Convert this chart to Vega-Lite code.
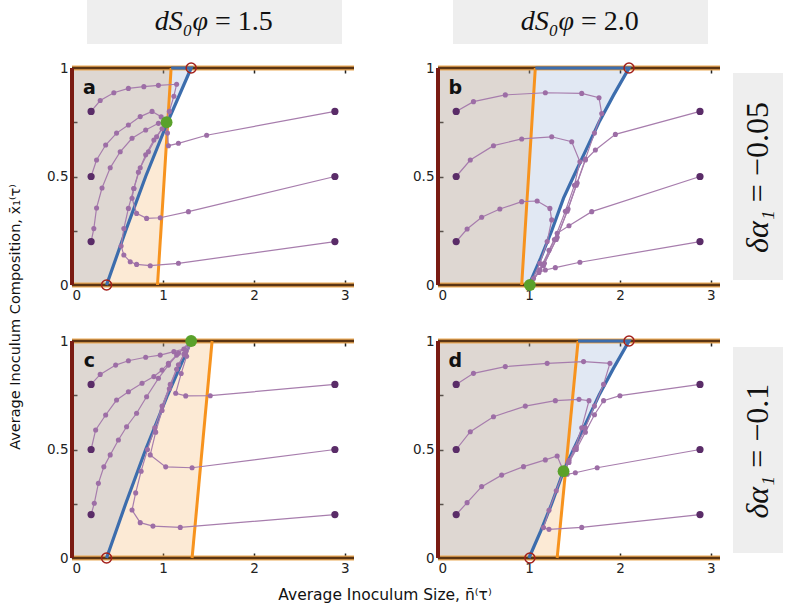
{
"$schema": "https://vega.github.io/schema/vega-lite/v6.json",
"background": "white",
"padding": {"left": 7, "top": 0, "right": 0, "bottom": 0},
"spacing": 16,
"config": {"view": {"stroke": null}, "axis": {"labelFont": "DejaVu Sans", "labelFontSize": 13.5, "labelColor": "#222", "tickColor": "#222", "tickWidth": 1.5, "tickSize": -5, "domain": false, "grid": false}},
"vconcat": [
{"spacing": 0, "hconcat": [
 {"width": 15, "height": 44, "data": {"values": []}, "mark": "point"},
 {"width": 255, "height": 44, "view": {"fill": "#eeeeee", "stroke": null}, "data": {"values": [{"a": "dS₀φ", "b": "= 1.5"}]},
  "layer": [
   {"mark": {"type": "text", "font": "Liberation Serif", "fontSize": 28, "fontStyle": "italic", "align": "right", "dx": -6.5, "color": "#111"}, "encoding": {"text": {"field": "a"}}},
   {"mark": {"type": "text", "font": "Liberation Serif", "fontSize": 28, "align": "left", "dx": 0.5, "color": "#111"}, "encoding": {"text": {"field": "b"}}}
  ]},
 {"width": 111, "height": 44, "data": {"values": []}, "mark": "point"},
 {"width": 255, "height": 44, "view": {"fill": "#eeeeee", "stroke": null}, "data": {"values": [{"a": "dS₀φ", "b": "= 2.0"}]},
  "layer": [
   {"mark": {"type": "text", "font": "Liberation Serif", "fontSize": 28, "fontStyle": "italic", "align": "right", "dx": -6.5, "color": "#111"}, "encoding": {"text": {"field": "a"}}},
   {"mark": {"type": "text", "font": "Liberation Serif", "fontSize": 28, "align": "left", "dx": 0.5, "color": "#111"}, "encoding": {"text": {"field": "b"}}}
  ]}
]},
{"spacing": 10, "hconcat": [
 {
  "data": {"values": [
{"r":1,"c":1,"k":"ro","x":0,"y":0,"h":1},{"r":1,"c":1,"k":"ro","x":0.94,"y":0,"h":1},{"r":1,"c":1,"k":"ro","x":1.09,"y":1,"h":1},
{"r":1,"c":1,"k":"rb","x":0,"y":0,"h":1},{"r":1,"c":1,"k":"rb","x":0.38,"y":0,"h":1},{"r":1,"c":1,"k":"rb","x":0.59,"y":0.25,"h":1},{"r":1,"c":1,"k":"rb","x":0.81,"y":0.5,"h":1},{"r":1,"c":1,"k":"rb","x":1.05,"y":0.75,"h":1},{"r":1,"c":1,"k":"rb","x":1.31,"y":1,"h":1},
{"r":1,"c":2,"k":"ro","x":0,"y":0,"h":1},{"r":1,"c":2,"k":"ro","x":0.92,"y":0,"h":1},{"r":1,"c":2,"k":"ro","x":1.07,"y":1,"h":1},
{"r":1,"c":2,"k":"rb","x":0,"y":0,"h":1},{"r":1,"c":2,"k":"rb","x":1.0,"y":0,"h":1},{"r":1,"c":2,"k":"rb","x":1.13,"y":0.125,"h":1},{"r":1,"c":2,"k":"rb","x":1.25,"y":0.25,"h":1},{"r":1,"c":2,"k":"rb","x":1.38,"y":0.4,"h":1},{"r":1,"c":2,"k":"rb","x":1.49,"y":0.5,"h":1},{"r":1,"c":2,"k":"rb","x":1.63,"y":0.625,"h":1},{"r":1,"c":2,"k":"rb","x":1.77,"y":0.75,"h":1},{"r":1,"c":2,"k":"rb","x":1.93,"y":0.875,"h":1},{"r":1,"c":2,"k":"rb","x":2.1,"y":1,"h":1},
{"r":2,"c":1,"k":"ro","x":0,"y":0,"h":1},{"r":2,"c":1,"k":"ro","x":1.32,"y":0,"h":1},{"r":2,"c":1,"k":"ro","x":1.54,"y":1,"h":1},
{"r":2,"c":1,"k":"rb","x":0,"y":0,"h":1},{"r":2,"c":1,"k":"rb","x":0.38,"y":0,"h":1},{"r":2,"c":1,"k":"rb","x":0.59,"y":0.25,"h":1},{"r":2,"c":1,"k":"rb","x":0.81,"y":0.5,"h":1},{"r":2,"c":1,"k":"rb","x":1.05,"y":0.75,"h":1},{"r":2,"c":1,"k":"rb","x":1.31,"y":1,"h":1},
{"r":2,"c":2,"k":"ro","x":0,"y":0,"h":1},{"r":2,"c":2,"k":"ro","x":1.31,"y":0,"h":1},{"r":2,"c":2,"k":"ro","x":1.54,"y":1,"h":1},
{"r":2,"c":2,"k":"rb","x":0,"y":0,"h":1},{"r":2,"c":2,"k":"rb","x":1.0,"y":0,"h":1},{"r":2,"c":2,"k":"rb","x":1.13,"y":0.125,"h":1},{"r":2,"c":2,"k":"rb","x":1.25,"y":0.25,"h":1},{"r":2,"c":2,"k":"rb","x":1.38,"y":0.4,"h":1},{"r":2,"c":2,"k":"rb","x":1.49,"y":0.5,"h":1},{"r":2,"c":2,"k":"rb","x":1.63,"y":0.625,"h":1},{"r":2,"c":2,"k":"rb","x":1.77,"y":0.75,"h":1},{"r":2,"c":2,"k":"rb","x":1.93,"y":0.875,"h":1},{"r":2,"c":2,"k":"rb","x":2.1,"y":1,"h":1},

{"r":1,"c":1,"k":"or","o":0,"x":0.94,"y":0},{"r":1,"c":1,"k":"or","o":1,"x":1.09,"y":1},
{"r":1,"c":1,"k":"br","o":0,"x":0.38,"y":0},{"r":1,"c":1,"k":"br","o":1,"x":0.59,"y":0.25},{"r":1,"c":1,"k":"br","o":2,"x":0.81,"y":0.5},{"r":1,"c":1,"k":"br","o":3,"x":1.05,"y":0.75},{"r":1,"c":1,"k":"br","o":4,"x":1.31,"y":1},{"r":1,"c":1,"k":"br","o":5,"x":1.09,"y":1},
{"r":1,"c":1,"k":"g","x":1.04,"y":0.75},
{"r":1,"c":1,"k":"rc","x":1.31,"y":1},{"r":1,"c":1,"k":"rc","x":0.38,"y":0},
{"r":1,"c":1,"k":"e","y":0},{"r":1,"c":1,"k":"e","y":1},
{"r":1,"c":1,"k":"lab","t":"a"},
{"r":1,"c":2,"k":"or","o":0,"x":0.92,"y":0},{"r":1,"c":2,"k":"or","o":1,"x":1.07,"y":1},
{"r":1,"c":2,"k":"br","o":0,"x":1.0,"y":0},{"r":1,"c":2,"k":"br","o":1,"x":1.13,"y":0.125},{"r":1,"c":2,"k":"br","o":2,"x":1.25,"y":0.25},{"r":1,"c":2,"k":"br","o":3,"x":1.38,"y":0.4},{"r":1,"c":2,"k":"br","o":4,"x":1.49,"y":0.5},{"r":1,"c":2,"k":"br","o":5,"x":1.63,"y":0.625},{"r":1,"c":2,"k":"br","o":6,"x":1.77,"y":0.75},{"r":1,"c":2,"k":"br","o":7,"x":1.93,"y":0.875},{"r":1,"c":2,"k":"br","o":8,"x":2.1,"y":1},{"r":1,"c":2,"k":"br","o":9,"x":1.07,"y":1},
{"r":1,"c":2,"k":"g","x":1.01,"y":0},
{"r":1,"c":2,"k":"rc","x":2.1,"y":1},
{"r":1,"c":2,"k":"e","y":0},{"r":1,"c":2,"k":"e","y":1},
{"r":1,"c":2,"k":"lab","t":"b"},
{"r":2,"c":1,"k":"or","o":0,"x":1.32,"y":0},{"r":2,"c":1,"k":"or","o":1,"x":1.54,"y":1},
{"r":2,"c":1,"k":"br","o":0,"x":0.38,"y":0},{"r":2,"c":1,"k":"br","o":1,"x":0.59,"y":0.25},{"r":2,"c":1,"k":"br","o":2,"x":0.81,"y":0.5},{"r":2,"c":1,"k":"br","o":3,"x":1.05,"y":0.75},{"r":2,"c":1,"k":"br","o":4,"x":1.31,"y":1},
{"r":2,"c":1,"k":"g","x":1.31,"y":1},
{"r":2,"c":1,"k":"rc","x":0.38,"y":0},
{"r":2,"c":1,"k":"e","y":0},{"r":2,"c":1,"k":"e","y":1},
{"r":2,"c":1,"k":"lab","t":"c"},
{"r":2,"c":2,"k":"or","o":0,"x":1.31,"y":0},{"r":2,"c":2,"k":"or","o":1,"x":1.54,"y":1},
{"r":2,"c":2,"k":"br","o":0,"x":1.0,"y":0},{"r":2,"c":2,"k":"br","o":1,"x":1.13,"y":0.125},{"r":2,"c":2,"k":"br","o":2,"x":1.25,"y":0.25},{"r":2,"c":2,"k":"br","o":3,"x":1.38,"y":0.4},{"r":2,"c":2,"k":"br","o":4,"x":1.49,"y":0.5},{"r":2,"c":2,"k":"br","o":5,"x":1.63,"y":0.625},{"r":2,"c":2,"k":"br","o":6,"x":1.77,"y":0.75},{"r":2,"c":2,"k":"br","o":7,"x":1.93,"y":0.875},{"r":2,"c":2,"k":"br","o":8,"x":2.1,"y":1},{"r":2,"c":2,"k":"br","o":9,"x":1.54,"y":1},
{"r":2,"c":2,"k":"g","x":1.38,"y":0.4},
{"r":2,"c":2,"k":"rc","x":1.01,"y":0},{"r":2,"c":2,"k":"rc","x":2.1,"y":1},
{"r":2,"c":2,"k":"e","y":0},{"r":2,"c":2,"k":"e","y":1},
{"r":2,"c":2,"k":"lab","t":"d"},

{"r":1,"c":1,"k":"t","i":"a1","o":0,"x":0.21,"y":0.8},{"r":1,"c":1,"k":"t","i":"a1","o":1,"x":0.31,"y":0.85},{"r":1,"c":1,"k":"t","i":"a1","o":2,"x":0.46,"y":0.886},{"r":1,"c":1,"k":"t","i":"a1","o":3,"x":0.62,"y":0.906},{"r":1,"c":1,"k":"t","i":"a1","o":4,"x":0.79,"y":0.914},{"r":1,"c":1,"k":"t","i":"a1","o":5,"x":0.95,"y":0.92},{"r":1,"c":1,"k":"t","i":"a1","o":6,"x":1.15,"y":0.925},{"r":1,"c":1,"k":"t","i":"a1","o":7,"x":1.12,"y":0.87},{"r":1,"c":1,"k":"t","i":"a1","o":8,"x":1.07,"y":0.8},{"r":1,"c":1,"k":"t","i":"a1","o":9,"x":1.04,"y":0.75},
{"r":1,"c":1,"k":"t","i":"a2","o":0,"x":0.21,"y":0.5},{"r":1,"c":1,"k":"t","i":"a2","o":1,"x":0.27,"y":0.576},{"r":1,"c":1,"k":"t","i":"a2","o":2,"x":0.37,"y":0.645},{"r":1,"c":1,"k":"t","i":"a2","o":3,"x":0.49,"y":0.7},{"r":1,"c":1,"k":"t","i":"a2","o":4,"x":0.62,"y":0.737},{"r":1,"c":1,"k":"t","i":"a2","o":5,"x":0.75,"y":0.776},{"r":1,"c":1,"k":"t","i":"a2","o":6,"x":0.88,"y":0.8},{"r":1,"c":1,"k":"t","i":"a2","o":7,"x":0.98,"y":0.775},{"r":1,"c":1,"k":"t","i":"a2","o":8,"x":1.04,"y":0.75},
{"r":1,"c":1,"k":"t","i":"a3","o":0,"x":0.21,"y":0.2},{"r":1,"c":1,"k":"t","i":"a3","o":1,"x":0.24,"y":0.26},{"r":1,"c":1,"k":"t","i":"a3","o":2,"x":0.27,"y":0.355},{"r":1,"c":1,"k":"t","i":"a3","o":3,"x":0.33,"y":0.447},{"r":1,"c":1,"k":"t","i":"a3","o":4,"x":0.42,"y":0.54},{"r":1,"c":1,"k":"t","i":"a3","o":5,"x":0.53,"y":0.614},{"r":1,"c":1,"k":"t","i":"a3","o":6,"x":0.66,"y":0.676},{"r":1,"c":1,"k":"t","i":"a3","o":7,"x":0.81,"y":0.714},{"r":1,"c":1,"k":"t","i":"a3","o":8,"x":0.95,"y":0.745},{"r":1,"c":1,"k":"t","i":"a3","o":9,"x":1.04,"y":0.75},
{"r":1,"c":1,"k":"t","i":"a4","o":0,"x":2.89,"y":0.8},{"r":1,"c":1,"k":"t","i":"a4","o":1,"x":1.48,"y":0.69},{"r":1,"c":1,"k":"t","i":"a4","o":2,"x":1.17,"y":0.653},{"r":1,"c":1,"k":"t","i":"a4","o":3,"x":1.06,"y":0.642},{"r":1,"c":1,"k":"t","i":"a4","o":4,"x":1.05,"y":0.7},{"r":1,"c":1,"k":"t","i":"a4","o":5,"x":1.04,"y":0.75},
{"r":1,"c":1,"k":"t","i":"a5","o":0,"x":2.89,"y":0.5},{"r":1,"c":1,"k":"t","i":"a5","o":1,"x":1.28,"y":0.338},{"r":1,"c":1,"k":"t","i":"a5","o":2,"x":0.97,"y":0.31},{"r":1,"c":1,"k":"t","i":"a5","o":3,"x":0.82,"y":0.307},{"r":1,"c":1,"k":"t","i":"a5","o":4,"x":0.71,"y":0.33},{"r":1,"c":1,"k":"t","i":"a5","o":5,"x":0.66,"y":0.4},{"r":1,"c":1,"k":"t","i":"a5","o":6,"x":0.68,"y":0.445},{"r":1,"c":1,"k":"t","i":"a5","o":7,"x":0.73,"y":0.52},{"r":1,"c":1,"k":"t","i":"a5","o":8,"x":0.81,"y":0.6},{"r":1,"c":1,"k":"t","i":"a5","o":9,"x":0.9,"y":0.668},{"r":1,"c":1,"k":"t","i":"a5","o":10,"x":0.99,"y":0.72},{"r":1,"c":1,"k":"t","i":"a5","o":11,"x":1.04,"y":0.75},
{"r":1,"c":1,"k":"t","i":"a6","o":0,"x":2.89,"y":0.2},{"r":1,"c":1,"k":"t","i":"a6","o":1,"x":1.17,"y":0.1},{"r":1,"c":1,"k":"t","i":"a6","o":2,"x":0.86,"y":0.089},{"r":1,"c":1,"k":"t","i":"a6","o":3,"x":0.71,"y":0.095},{"r":1,"c":1,"k":"t","i":"a6","o":4,"x":0.64,"y":0.107},{"r":1,"c":1,"k":"t","i":"a6","o":5,"x":0.57,"y":0.138},{"r":1,"c":1,"k":"t","i":"a6","o":6,"x":0.54,"y":0.18},{"r":1,"c":1,"k":"t","i":"a6","o":7,"x":0.57,"y":0.26},{"r":1,"c":1,"k":"t","i":"a6","o":8,"x":0.62,"y":0.353},{"r":1,"c":1,"k":"t","i":"a6","o":9,"x":0.68,"y":0.445},{"r":1,"c":1,"k":"t","i":"a6","o":10,"x":0.75,"y":0.54},{"r":1,"c":1,"k":"t","i":"a6","o":11,"x":0.84,"y":0.614},{"r":1,"c":1,"k":"t","i":"a6","o":12,"x":0.93,"y":0.683},{"r":1,"c":1,"k":"t","i":"a6","o":13,"x":1.04,"y":0.75},

{"r":1,"c":2,"k":"t","i":"b1","o":0,"x":0.2,"y":0.8},{"r":1,"c":2,"k":"t","i":"b1","o":1,"x":0.39,"y":0.845},{"r":1,"c":2,"k":"t","i":"b1","o":2,"x":0.74,"y":0.876},{"r":1,"c":2,"k":"t","i":"b1","o":3,"x":1.18,"y":0.886},{"r":1,"c":2,"k":"t","i":"b1","o":4,"x":1.58,"y":0.883},{"r":1,"c":2,"k":"t","i":"b1","o":5,"x":1.77,"y":0.863},{"r":1,"c":2,"k":"t","i":"b1","o":6,"x":1.8,"y":0.79},{"r":1,"c":2,"k":"t","i":"b1","o":7,"x":1.72,"y":0.7},{"r":1,"c":2,"k":"t","i":"b1","o":8,"x":1.62,"y":0.58},{"r":1,"c":2,"k":"t","i":"b1","o":9,"x":1.52,"y":0.46},{"r":1,"c":2,"k":"t","i":"b1","o":10,"x":1.42,"y":0.34},{"r":1,"c":2,"k":"t","i":"b1","o":11,"x":1.3,"y":0.21},{"r":1,"c":2,"k":"t","i":"b1","o":12,"x":1.16,"y":0.09},{"r":1,"c":2,"k":"t","i":"b1","o":13,"x":1.01,"y":0},
{"r":1,"c":2,"k":"t","i":"b2","o":0,"x":0.2,"y":0.5},{"r":1,"c":2,"k":"t","i":"b2","o":1,"x":0.355,"y":0.576},{"r":1,"c":2,"k":"t","i":"b2","o":2,"x":0.61,"y":0.642},{"r":1,"c":2,"k":"t","i":"b2","o":3,"x":0.92,"y":0.673},{"r":1,"c":2,"k":"t","i":"b2","o":4,"x":1.25,"y":0.683},{"r":1,"c":2,"k":"t","i":"b2","o":5,"x":1.47,"y":0.66},{"r":1,"c":2,"k":"t","i":"b2","o":6,"x":1.56,"y":0.568},{"r":1,"c":2,"k":"t","i":"b2","o":7,"x":1.5,"y":0.46},{"r":1,"c":2,"k":"t","i":"b2","o":8,"x":1.4,"y":0.34},{"r":1,"c":2,"k":"t","i":"b2","o":9,"x":1.28,"y":0.21},{"r":1,"c":2,"k":"t","i":"b2","o":10,"x":1.15,"y":0.09},{"r":1,"c":2,"k":"t","i":"b2","o":11,"x":1.01,"y":0},
{"r":1,"c":2,"k":"t","i":"b3","o":0,"x":0.2,"y":0.2},{"r":1,"c":2,"k":"t","i":"b3","o":1,"x":0.32,"y":0.258},{"r":1,"c":2,"k":"t","i":"b3","o":2,"x":0.48,"y":0.312},{"r":1,"c":2,"k":"t","i":"b3","o":3,"x":0.68,"y":0.35},{"r":1,"c":2,"k":"t","i":"b3","o":4,"x":0.92,"y":0.384},{"r":1,"c":2,"k":"t","i":"b3","o":5,"x":1.09,"y":0.387},{"r":1,"c":2,"k":"t","i":"b3","o":6,"x":1.23,"y":0.353},{"r":1,"c":2,"k":"t","i":"b3","o":7,"x":1.25,"y":0.3},{"r":1,"c":2,"k":"t","i":"b3","o":8,"x":1.2,"y":0.2},{"r":1,"c":2,"k":"t","i":"b3","o":9,"x":1.12,"y":0.1},{"r":1,"c":2,"k":"t","i":"b3","o":10,"x":1.01,"y":0},
{"r":1,"c":2,"k":"t","i":"b4","o":0,"x":2.88,"y":0.8},{"r":1,"c":2,"k":"t","i":"b4","o":1,"x":1.95,"y":0.694},{"r":1,"c":2,"k":"t","i":"b4","o":2,"x":1.73,"y":0.622},{"r":1,"c":2,"k":"t","i":"b4","o":3,"x":1.62,"y":0.576},{"r":1,"c":2,"k":"t","i":"b4","o":4,"x":1.53,"y":0.47},{"r":1,"c":2,"k":"t","i":"b4","o":5,"x":1.43,"y":0.35},{"r":1,"c":2,"k":"t","i":"b4","o":6,"x":1.31,"y":0.22},{"r":1,"c":2,"k":"t","i":"b4","o":7,"x":1.17,"y":0.1},{"r":1,"c":2,"k":"t","i":"b4","o":8,"x":1.01,"y":0},
{"r":1,"c":2,"k":"t","i":"b5","o":0,"x":2.88,"y":0.5},{"r":1,"c":2,"k":"t","i":"b5","o":1,"x":1.69,"y":0.338},{"r":1,"c":2,"k":"t","i":"b5","o":2,"x":1.44,"y":0.273},{"r":1,"c":2,"k":"t","i":"b5","o":3,"x":1.31,"y":0.238},{"r":1,"c":2,"k":"t","i":"b5","o":4,"x":1.22,"y":0.16},{"r":1,"c":2,"k":"t","i":"b5","o":5,"x":1.12,"y":0.07},{"r":1,"c":2,"k":"t","i":"b5","o":6,"x":1.01,"y":0},
{"r":1,"c":2,"k":"t","i":"b6","o":0,"x":2.88,"y":0.2},{"r":1,"c":2,"k":"t","i":"b6","o":1,"x":1.56,"y":0.105},{"r":1,"c":2,"k":"t","i":"b6","o":2,"x":1.29,"y":0.08},{"r":1,"c":2,"k":"t","i":"b6","o":3,"x":1.18,"y":0.069},{"r":1,"c":2,"k":"t","i":"b6","o":4,"x":1.11,"y":0.058},{"r":1,"c":2,"k":"t","i":"b6","o":5,"x":1.05,"y":0.03},{"r":1,"c":2,"k":"t","i":"b6","o":6,"x":1.01,"y":0},

{"r":2,"c":1,"k":"t","i":"c1","o":0,"x":0.21,"y":0.8},{"r":2,"c":1,"k":"t","i":"c1","o":1,"x":0.31,"y":0.846},{"r":2,"c":1,"k":"t","i":"c1","o":2,"x":0.48,"y":0.889},{"r":2,"c":1,"k":"t","i":"c1","o":3,"x":0.62,"y":0.909},{"r":2,"c":1,"k":"t","i":"c1","o":4,"x":0.81,"y":0.925},{"r":2,"c":1,"k":"t","i":"c1","o":5,"x":0.97,"y":0.935},{"r":2,"c":1,"k":"t","i":"c1","o":6,"x":1.12,"y":0.951},{"r":2,"c":1,"k":"t","i":"c1","o":7,"x":1.23,"y":0.963},{"r":2,"c":1,"k":"t","i":"c1","o":8,"x":1.31,"y":1},
{"r":2,"c":1,"k":"t","i":"c2","o":0,"x":0.21,"y":0.5},{"r":2,"c":1,"k":"t","i":"c2","o":1,"x":0.26,"y":0.59},{"r":2,"c":1,"k":"t","i":"c2","o":2,"x":0.37,"y":0.659},{"r":2,"c":1,"k":"t","i":"c2","o":3,"x":0.49,"y":0.728},{"r":2,"c":1,"k":"t","i":"c2","o":4,"x":0.62,"y":0.766},{"r":2,"c":1,"k":"t","i":"c2","o":5,"x":0.77,"y":0.805},{"r":2,"c":1,"k":"t","i":"c2","o":6,"x":0.9,"y":0.836},{"r":2,"c":1,"k":"t","i":"c2","o":7,"x":0.99,"y":0.866},{"r":2,"c":1,"k":"t","i":"c2","o":8,"x":1.06,"y":0.897},{"r":2,"c":1,"k":"t","i":"c2","o":9,"x":1.15,"y":0.935},{"r":2,"c":1,"k":"t","i":"c2","o":10,"x":1.31,"y":1},
{"r":2,"c":1,"k":"t","i":"c3","o":0,"x":0.21,"y":0.2},{"r":2,"c":1,"k":"t","i":"c3","o":1,"x":0.245,"y":0.252},{"r":2,"c":1,"k":"t","i":"c3","o":2,"x":0.29,"y":0.344},{"r":2,"c":1,"k":"t","i":"c3","o":3,"x":0.35,"y":0.42},{"r":2,"c":1,"k":"t","i":"c3","o":4,"x":0.42,"y":0.475},{"r":2,"c":1,"k":"t","i":"c3","o":5,"x":0.51,"y":0.544},{"r":2,"c":1,"k":"t","i":"c3","o":6,"x":0.6,"y":0.605},{"r":2,"c":1,"k":"t","i":"c3","o":7,"x":0.71,"y":0.667},{"r":2,"c":1,"k":"t","i":"c3","o":8,"x":0.82,"y":0.743},{"r":2,"c":1,"k":"t","i":"c3","o":9,"x":0.95,"y":0.828},{"r":2,"c":1,"k":"t","i":"c3","o":10,"x":1.06,"y":0.889},{"r":2,"c":1,"k":"t","i":"c3","o":11,"x":1.17,"y":0.943},{"r":2,"c":1,"k":"t","i":"c3","o":12,"x":1.31,"y":1},
{"r":2,"c":1,"k":"t","i":"c4","o":0,"x":2.89,"y":0.8},{"r":2,"c":1,"k":"t","i":"c4","o":1,"x":1.52,"y":0.748},{"r":2,"c":1,"k":"t","i":"c4","o":2,"x":1.25,"y":0.747},{"r":2,"c":1,"k":"t","i":"c4","o":3,"x":1.14,"y":0.759},{"r":2,"c":1,"k":"t","i":"c4","o":4,"x":1.2,"y":0.85},{"r":2,"c":1,"k":"t","i":"c4","o":5,"x":1.26,"y":0.93},{"r":2,"c":1,"k":"t","i":"c4","o":6,"x":1.31,"y":1},
{"r":2,"c":1,"k":"t","i":"c5","o":0,"x":2.89,"y":0.5},{"r":2,"c":1,"k":"t","i":"c5","o":1,"x":1.32,"y":0.416},{"r":2,"c":1,"k":"t","i":"c5","o":2,"x":1.03,"y":0.42},{"r":2,"c":1,"k":"t","i":"c5","o":3,"x":0.86,"y":0.475},{"r":2,"c":1,"k":"t","i":"c5","o":4,"x":0.92,"y":0.58},{"r":2,"c":1,"k":"t","i":"c5","o":5,"x":0.99,"y":0.68},{"r":2,"c":1,"k":"t","i":"c5","o":6,"x":1.07,"y":0.78},{"r":2,"c":1,"k":"t","i":"c5","o":7,"x":1.15,"y":0.87},{"r":2,"c":1,"k":"t","i":"c5","o":8,"x":1.23,"y":0.94},{"r":2,"c":1,"k":"t","i":"c5","o":9,"x":1.31,"y":1},
{"r":2,"c":1,"k":"t","i":"c6","o":0,"x":2.89,"y":0.2},{"r":2,"c":1,"k":"t","i":"c6","o":1,"x":1.19,"y":0.141},{"r":2,"c":1,"k":"t","i":"c6","o":2,"x":0.89,"y":0.147},{"r":2,"c":1,"k":"t","i":"c6","o":3,"x":0.75,"y":0.163},{"r":2,"c":1,"k":"t","i":"c6","o":4,"x":0.66,"y":0.221},{"r":2,"c":1,"k":"t","i":"c6","o":5,"x":0.7,"y":0.3},{"r":2,"c":1,"k":"t","i":"c6","o":6,"x":0.76,"y":0.4},{"r":2,"c":1,"k":"t","i":"c6","o":7,"x":0.83,"y":0.5},{"r":2,"c":1,"k":"t","i":"c6","o":8,"x":0.91,"y":0.6},{"r":2,"c":1,"k":"t","i":"c6","o":9,"x":0.99,"y":0.7},{"r":2,"c":1,"k":"t","i":"c6","o":10,"x":1.08,"y":0.8},{"r":2,"c":1,"k":"t","i":"c6","o":11,"x":1.17,"y":0.89},{"r":2,"c":1,"k":"t","i":"c6","o":12,"x":1.25,"y":0.95},{"r":2,"c":1,"k":"t","i":"c6","o":13,"x":1.31,"y":1},

{"r":2,"c":2,"k":"t","i":"d1","o":0,"x":0.2,"y":0.8},{"r":2,"c":2,"k":"t","i":"d1","o":1,"x":0.39,"y":0.851},{"r":2,"c":2,"k":"t","i":"d1","o":2,"x":0.74,"y":0.882},{"r":2,"c":2,"k":"t","i":"d1","o":3,"x":1.2,"y":0.897},{"r":2,"c":2,"k":"t","i":"d1","o":4,"x":1.6,"y":0.905},{"r":2,"c":2,"k":"t","i":"d1","o":5,"x":1.89,"y":0.897},{"r":2,"c":2,"k":"t","i":"d1","o":6,"x":1.82,"y":0.8},{"r":2,"c":2,"k":"t","i":"d1","o":7,"x":1.72,"y":0.7},{"r":2,"c":2,"k":"t","i":"d1","o":8,"x":1.62,"y":0.6},{"r":2,"c":2,"k":"t","i":"d1","o":9,"x":1.52,"y":0.51},{"r":2,"c":2,"k":"t","i":"d1","o":10,"x":1.44,"y":0.45},{"r":2,"c":2,"k":"t","i":"d1","o":11,"x":1.38,"y":0.4},
{"r":2,"c":2,"k":"t","i":"d2","o":0,"x":0.2,"y":0.5},{"r":2,"c":2,"k":"t","i":"d2","o":1,"x":0.355,"y":0.582},{"r":2,"c":2,"k":"t","i":"d2","o":2,"x":0.61,"y":0.651},{"r":2,"c":2,"k":"t","i":"d2","o":3,"x":0.96,"y":0.7},{"r":2,"c":2,"k":"t","i":"d2","o":4,"x":1.29,"y":0.725},{"r":2,"c":2,"k":"t","i":"d2","o":5,"x":1.55,"y":0.731},{"r":2,"c":2,"k":"t","i":"d2","o":6,"x":1.66,"y":0.725},{"r":2,"c":2,"k":"t","i":"d2","o":7,"x":1.58,"y":0.6},{"r":2,"c":2,"k":"t","i":"d2","o":8,"x":1.5,"y":0.5},{"r":2,"c":2,"k":"t","i":"d2","o":9,"x":1.43,"y":0.44},{"r":2,"c":2,"k":"t","i":"d2","o":10,"x":1.38,"y":0.4},
{"r":2,"c":2,"k":"t","i":"d3","o":0,"x":0.2,"y":0.2},{"r":2,"c":2,"k":"t","i":"d3","o":1,"x":0.32,"y":0.255},{"r":2,"c":2,"k":"t","i":"d3","o":2,"x":0.48,"y":0.329},{"r":2,"c":2,"k":"t","i":"d3","o":3,"x":0.7,"y":0.382},{"r":2,"c":2,"k":"t","i":"d3","o":4,"x":0.94,"y":0.421},{"r":2,"c":2,"k":"t","i":"d3","o":5,"x":1.18,"y":0.452},{"r":2,"c":2,"k":"t","i":"d3","o":6,"x":1.31,"y":0.47},{"r":2,"c":2,"k":"t","i":"d3","o":7,"x":1.38,"y":0.4},
{"r":2,"c":2,"k":"t","i":"d4","o":0,"x":2.88,"y":0.8},{"r":2,"c":2,"k":"t","i":"d4","o":1,"x":2.0,"y":0.748},{"r":2,"c":2,"k":"t","i":"d4","o":2,"x":1.82,"y":0.725},{"r":2,"c":2,"k":"t","i":"d4","o":3,"x":1.72,"y":0.66},{"r":2,"c":2,"k":"t","i":"d4","o":4,"x":1.62,"y":0.58},{"r":2,"c":2,"k":"t","i":"d4","o":5,"x":1.52,"y":0.5},{"r":2,"c":2,"k":"t","i":"d4","o":6,"x":1.44,"y":0.44},{"r":2,"c":2,"k":"t","i":"d4","o":7,"x":1.38,"y":0.4},
{"r":2,"c":2,"k":"t","i":"d5","o":0,"x":2.88,"y":0.5},{"r":2,"c":2,"k":"t","i":"d5","o":1,"x":1.75,"y":0.416},{"r":2,"c":2,"k":"t","i":"d5","o":2,"x":1.51,"y":0.393},{"r":2,"c":2,"k":"t","i":"d5","o":3,"x":1.42,"y":0.386},{"r":2,"c":2,"k":"t","i":"d5","o":4,"x":1.38,"y":0.4},
{"r":2,"c":2,"k":"t","i":"d6","o":0,"x":2.88,"y":0.2},{"r":2,"c":2,"k":"t","i":"d6","o":1,"x":1.58,"y":0.141},{"r":2,"c":2,"k":"t","i":"d6","o":2,"x":1.22,"y":0.132},{"r":2,"c":2,"k":"t","i":"d6","o":3,"x":1.16,"y":0.14},{"r":2,"c":2,"k":"t","i":"d6","o":4,"x":1.22,"y":0.22},{"r":2,"c":2,"k":"t","i":"d6","o":5,"x":1.3,"y":0.31},{"r":2,"c":2,"k":"t","i":"d6","o":6,"x":1.38,"y":0.4}
  ]},
  "facet": {
   "row": {"field": "r", "type": "ordinal", "title": "     Average Inoculum Composition, x̄₁⁽τ⁾", "header": {"labels": false, "titleOrient": "left", "titleFont": "DejaVu Sans", "titleFontSize": 14.5, "titleFontWeight": "normal", "titleColor": "#111", "titlePadding": 39}},
   "column": {"field": "c", "type": "ordinal", "title": "Average Inoculum Size, n̄⁽τ⁾", "header": {"labels": false, "titleOrient": "bottom", "titleFont": "DejaVu Sans", "titleFontSize": 15.5, "titleFontWeight": "normal", "titleColor": "#111", "titlePadding": 20}}
  },
  "spacing": {"row": 56, "column": 84},
  "bounds": "flush",
  "resolve": {"axis": {"x": "independent", "y": "independent"}},
  "spec": {
   "width": 282, "height": 217,
   "layer": [
    {"transform": [{"filter": "datum.k == 'ro'"}],
     "mark": {"type": "area", "color": "#f4a64a", "opacity": 0.23},
     "encoding": {
      "x": {"field": "x", "type": "quantitative", "title": null, "scale": {"domain": [0, 3.1], "nice": false, "zero": false}, "axis": {"orient": "bottom", "values": [0, 1, 2, 3], "format": "~g", "labelPadding": 8}},
      "y": {"field": "y", "type": "quantitative", "title": null, "scale": {"domain": [0, 1], "nice": false}, "axis": {"orient": "left", "values": [0, 0.25, 0.5, 0.75, 1], "format": "~g", "labelExpr": "datum.value == 0.25 || datum.value == 0.75 ? '' : datum.label", "labelPadding": 9}},
      "y2": {"field": "h"}
     }},
    {"transform": [{"filter": "datum.k == 'rb'"}],
     "mark": {"type": "area", "color": "#6f93c4", "opacity": 0.21},
     "encoding": {
      "x": {"field": "x", "type": "quantitative", "title": null, "axis": null},
      "y": {"field": "y", "type": "quantitative", "title": null},
      "y2": {"field": "h"}
     }},
    {"transform": [{"filter": "datum.k == 'lab'"}],
     "mark": {"type": "point", "opacity": 0},
     "encoding": {
      "x": {"datum": 1, "type": "quantitative", "axis": {"orient": "top", "values": [1, 2, 3], "labels": false, "title": null}}
     }},
    {"transform": [{"filter": "datum.k == 'e'"}],
     "mark": {"type": "rule", "color": "#eaa957", "strokeWidth": 5},
     "encoding": {"y": {"field": "y", "type": "quantitative", "title": null}}},
    {"transform": [{"filter": "datum.k == 'e'"}],
     "mark": {"type": "rule", "color": "#5b3513", "strokeWidth": 2.5},
     "encoding": {"y": {"field": "y", "type": "quantitative", "title": null}}},
    {"transform": [{"filter": "datum.k == 'e' && datum.y == 0"}],
     "mark": {"type": "rule", "color": "#7a1b12", "strokeWidth": 4},
     "encoding": {"x": {"datum": 0, "axis": null}, "y": {"datum": 0}, "y2": {"datum": 1}}},
    {"transform": [{"filter": "datum.k == 'or'"}],
     "mark": {"type": "line", "color": "#f7931e", "strokeWidth": 3},
     "encoding": {"x": {"field": "x", "type": "quantitative", "title": null, "axis": null}, "y": {"field": "y", "type": "quantitative", "title": null}, "order": {"field": "o"}}},
    {"transform": [{"filter": "datum.k == 'br'"}],
     "mark": {"type": "line", "color": "#3c6dad", "strokeWidth": 3.2},
     "encoding": {"x": {"field": "x", "type": "quantitative", "title": null, "axis": null}, "y": {"field": "y", "type": "quantitative", "title": null}, "order": {"field": "o"}}},
    {"transform": [{"filter": "datum.k == 't'"}],
     "mark": {"type": "line", "color": "#a77dad", "strokeWidth": 1.2},
     "encoding": {"x": {"field": "x", "type": "quantitative", "title": null, "axis": null}, "y": {"field": "y", "type": "quantitative", "title": null}, "detail": {"field": "i"}, "order": {"field": "o"}}},
    {"transform": [{"filter": "datum.k == 't' && datum.o > 0"}],
     "mark": {"type": "point", "filled": true, "color": "#9d6ea6", "size": 26, "opacity": 1},
     "encoding": {"x": {"field": "x", "type": "quantitative", "title": null, "axis": null}, "y": {"field": "y", "type": "quantitative", "title": null}}},
    {"transform": [{"filter": "datum.k == 't' && datum.o == 0"}],
     "mark": {"type": "point", "filled": true, "color": "#5a2c68", "size": 52, "opacity": 1},
     "encoding": {"x": {"field": "x", "type": "quantitative", "title": null, "axis": null}, "y": {"field": "y", "type": "quantitative", "title": null}}},
    {"transform": [{"filter": "datum.k == 'g'"}],
     "mark": {"type": "point", "filled": true, "color": "#5aa12b", "size": 140, "opacity": 1},
     "encoding": {"x": {"field": "x", "type": "quantitative", "title": null, "axis": null}, "y": {"field": "y", "type": "quantitative", "title": null}}},
    {"transform": [{"filter": "datum.k == 'rc'"}],
     "mark": {"type": "point", "filled": false, "color": "#a3201b", "strokeWidth": 1.5, "size": 100, "opacity": 1},
     "encoding": {"x": {"field": "x", "type": "quantitative", "title": null, "axis": null}, "y": {"field": "y", "type": "quantitative", "title": null}}},
    {"transform": [{"filter": "datum.k == 'lab'"}],
     "mark": {"type": "text", "font": "DejaVu Sans", "fontSize": 19, "fontWeight": "bold", "color": "#111", "align": "center", "baseline": "middle"},
     "encoding": {"x": {"datum": 0.19, "axis": null}, "y": {"datum": 0.91}, "text": {"field": "t"}}}
   ]
  }
 },
 {"spacing": 0, "vconcat": [
  {"width": 50, "height": 5, "data": {"values": []}, "mark": "point"},
  {"width": 50, "height": 207, "view": {"fill": "#eeeeee", "stroke": null}, "data": {"values": [{"a": "δα₁", "b": "= −0.05"}]},
   "layer": [
    {"mark": {"type": "text", "angle": 270, "font": "Liberation Serif", "fontSize": 32, "fontStyle": "italic", "align": "right", "dx": -33.7, "color": "#111"}, "encoding": {"text": {"field": "a"}}},
    {"mark": {"type": "text", "angle": 270, "font": "Liberation Serif", "fontSize": 32, "align": "left", "dx": -25.7, "color": "#111"}, "encoding": {"text": {"field": "b"}}}
   ]},
  {"width": 50, "height": 67, "data": {"values": []}, "mark": "point"},
  {"width": 50, "height": 206, "view": {"fill": "#eeeeee", "stroke": null}, "data": {"values": [{"a": "δα₁", "b": "= −0.1"}]},
   "layer": [
    {"mark": {"type": "text", "angle": 270, "font": "Liberation Serif", "fontSize": 32, "fontStyle": "italic", "align": "right", "dx": -25.8, "color": "#111"}, "encoding": {"text": {"field": "a"}}},
    {"mark": {"type": "text", "angle": 270, "font": "Liberation Serif", "fontSize": 32, "align": "left", "dx": -17.8, "color": "#111"}, "encoding": {"text": {"field": "b"}}}
   ]}
 ]}
]}
]
}
